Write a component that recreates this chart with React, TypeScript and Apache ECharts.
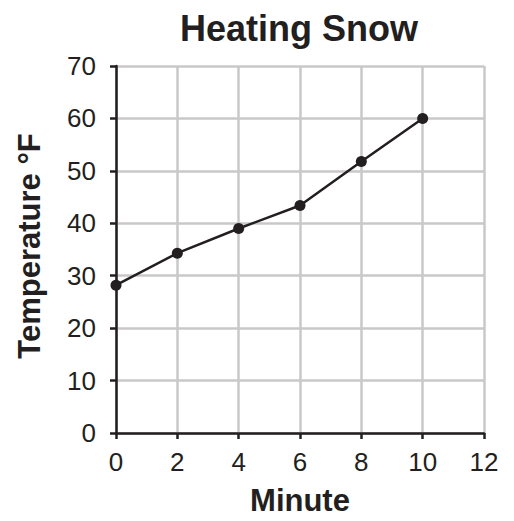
import React, { useEffect, useRef } from "react";
import * as echarts from "echarts";

const minutes = [0, 2, 4, 6, 8, 10];
const temperatures = [28.2, 34.3, 39.0, 43.4, 51.8, 60.0];

const title = "Heating Snow";
const xName = "Minute";
const yName = "Temperature °F";

export default function App() {
  const ref = useRef<HTMLDivElement>(null);
  useEffect(() => {
    if (!ref.current) return;
    const chart = echarts.init(ref.current, null, { renderer: "svg" });
    const dark = "#231f20";
    const font = "Liberation Sans, Arial, sans-serif";
    chart.setOption({
      animation: false,
      backgroundColor: "#ffffff",
      title: {
        text: title,
        left: 294,
        textAlign: "center",
        top: 5,
        textStyle: { fontFamily: font, fontWeight: "bold", fontSize: 36, color: dark },
      },
      grid: { left: 116, right: 30, top: 66, bottom: 85, containLabel: false },
      graphic: [
        {
          type: "text",
          x: 29.5,
          y: 246,
          rotation: Math.PI / 2,
          style: {
            text: yName,
            fontFamily: font,
            fontWeight: "bold",
            fontSize: 31,
            fill: dark,
            textAlign: "center",
            textVerticalAlign: "middle",
          },
        },
      ],
      xAxis: {
        type: "value",
        min: 0,
        max: 12,
        interval: 2,
        name: xName,
        nameLocation: "middle",
        nameGap: 52,
        nameTextStyle: { fontFamily: font, fontWeight: "bold", fontSize: 31, color: dark },
        axisLine: { show: true, onZero: false, lineStyle: { color: dark, width: 2.5 } },
        axisTick: { show: true, length: 6, lineStyle: { color: dark, width: 2.5 } },
        axisLabel: { margin: 16, fontFamily: font, fontSize: 26, color: dark },
        splitLine: { show: true, lineStyle: { color: "#c8c8c8", width: 2.5 } },
      },
      yAxis: {
        type: "value",
        min: 0,
        max: 70,
        interval: 10,
        axisLine: { show: true, onZero: false, lineStyle: { color: dark, width: 2.5 } },
        axisTick: { show: true, length: 6, lineStyle: { color: dark, width: 2.5 } },
        axisLabel: { margin: 20, fontFamily: font, fontSize: 26, color: dark },
        splitLine: { show: true, lineStyle: { color: "#c8c8c8", width: 2.5 } },
      },
      series: [
        {
          type: "line",
          data: minutes.map((m, i) => [m, temperatures[i]]),
          symbol: "circle",
          symbolSize: 11,
          lineStyle: { color: dark, width: 2.5 },
          itemStyle: { color: dark },
          z: 5,
        },
      ],
    });
    return () => chart.dispose();
  }, []);
  return <div ref={ref} style={{ width: 514, height: 521, position: "absolute", left: 0, top: 0 }} />;
}
